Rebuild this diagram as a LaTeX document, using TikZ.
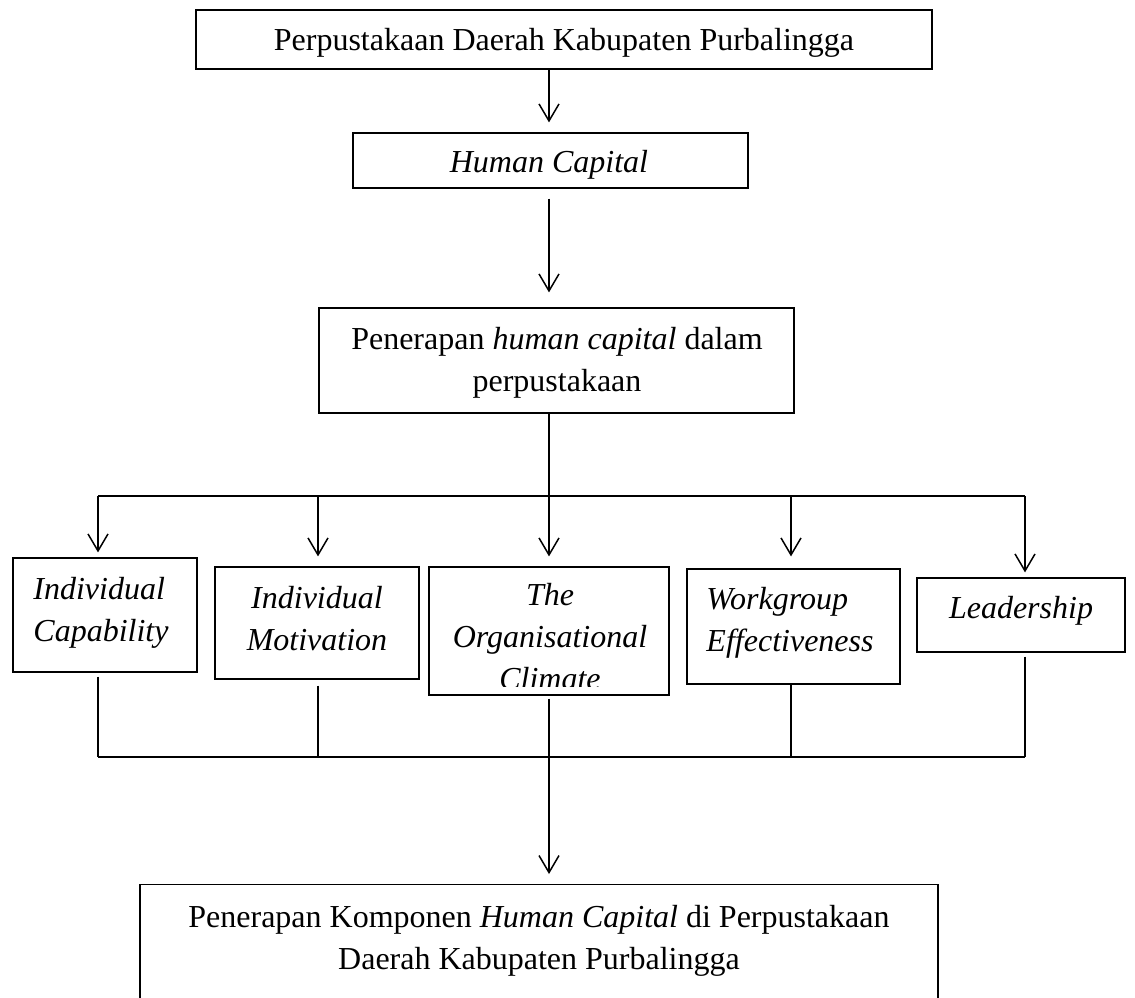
\documentclass[tikz,border=0pt]{standalone}
\usepackage{fontspec}
\setmainfont{Liberation Serif}
\usetikzlibrary{arrows.meta}
\begin{document}
\begin{tikzpicture}[x=1pt,y=-1pt,
  box/.style={draw, line width=1.2pt, inner sep=0pt, rectangle},
  txt/.style={inner sep=0pt, font=\fontsize{32}{42}\selectfont},
  itxt/.style={inner sep=0pt, font=\fontsize{32}{42}\selectfont\itshape},
  conn/.style={line width=1.5pt},
  arr/.style={line width=1.5pt, -{Straight Barb[length=17pt,width=20pt]}},
  hline/.style={line width=2pt}]
\useasboundingbox (0,0) rectangle (1135,997);
\fill[white] (0,0) rectangle (1135,997);
\clip (0,0) rectangle (1135,997);

% boxes
\node[box, minimum width=736pt, minimum height=59pt] (top) at (564,39.5) {};
\node[box, minimum width=395pt, minimum height=55pt] (hc) at (550.5,160.5) {};
\node[box, minimum width=475pt, minimum height=105pt] (b3) at (556.5,360.5) {};
\node[box, minimum width=184pt, minimum height=114pt] (A) at (105,615) {};
\node[box, minimum width=204pt, minimum height=112pt] (B) at (317,623) {};
\node[box, minimum width=240pt, minimum height=128pt] (C) at (549,631) {};
\node[box, minimum width=213pt, minimum height=115pt] (D) at (793.5,626.5) {};
\node[box, minimum width=208pt, minimum height=74pt] (E) at (1021,615) {};
\node[box, anchor=north, minimum width=798pt, minimum height=140pt] (bot) at (539,884) {};

% texts
\node[txt] (ttop) at (564,42.6) {Perpustakaan Daerah Kabupaten Purbalingga};
\node[itxt] (thc) at (549,164.5) {Human Capital};
\node[txt, align=center] (tb3) at (557,362.5) {Penerapan \textit{human capital} dalam\\perpustakaan};
\node[itxt, align=left] (tA) at (101,612.5) {Individual\\Capability};
\node[itxt, align=center] (tB) at (317,618.5) {Individual\\Motivation};
\begin{scope}
  \clip (429,560) rectangle (669,686);
  \node[itxt, align=center] (tC) at (550,637) {The\\Organisational\\Climate};
\end{scope}
\node[itxt, align=left] (tD) at (790,623) {Workgroup\\Effectiveness};
\node[itxt] (tE) at (1021,610.5) {Leadership};
\node[txt, align=center] (tbot) at (539,940.5) {Penerapan Komponen \textit{Human Capital} di Perpustakaan\\Daerah Kabupaten Purbalingga};

% column positions
\coordinate (sp) at (549,0);
\coordinate (xB) at (318,0);
\coordinate (xD) at (791,0);

% spine connectors
\draw[arr, shorten >=10pt] (top.south -| sp) -- (hc.north -| sp);
\draw[arr, shorten <=10pt, shorten >=15pt] (hc.south -| sp) -- (b3.north -| sp);
\coordinate (br) at (549,496);
\coordinate (brL) at (98,496);
\coordinate (brR) at (1025,496);
\draw[conn] (b3.south -| sp) -- (br);
\draw[hline] (brL) -- (brR);
\draw[arr, shorten >=5pt] (brL) -- (brL |- A.north);
\draw[arr, shorten >=10pt] (xB |- br) -- (xB |- B.north);
\draw[arr, shorten >=10pt] (br) -- (C.north);
\draw[arr, shorten >=12pt] (xD |- br) -- (xD |- D.north);
\draw[arr, shorten >=5pt] (brR) -- (brR |- E.north);

% collecting lines
\coordinate (blL) at (98,757);
\coordinate (blR) at (1025,757);
\draw[conn, shorten <=4pt] (A.south -| blL) -- (blL);
\draw[conn, shorten <=6pt] (xB |- B.south) -- (xB |- blL);
\draw[conn] (xD |- D.south) -- (xD |- blL);
\draw[conn, shorten <=4pt] (E.south -| blR) -- (blR);
\draw[hline] (blL) -- (blR);
\draw[arr, shorten <=3pt, shorten >=10pt] (C.south -| sp) -- (bot.north -| sp);
\end{tikzpicture}
\end{document}
